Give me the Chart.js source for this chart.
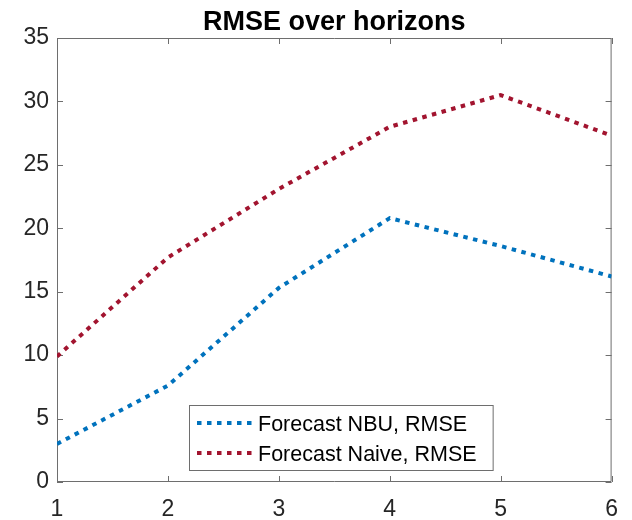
<!DOCTYPE html>
<html>
<head>
<meta charset="utf-8">
<title>RMSE over horizons</title>
<script src="https://cdn.jsdelivr.net/npm/chart.js@4/dist/chart.umd.min.js"></script>
<style>
  html, body { margin: 0; padding: 0; background: #fff; }
</style>
</head>
<body>
<canvas id="rmse-chart" width="632" height="520"></canvas>
<script>
// forecast horizons and RMSE values per model
const horizons = [1, 2, 3, 4, 5, 6];
const rmseNbu = [3.0, 7.6, 15.3, 20.8, 18.6, 16.2];
const rmseNaive = [9.9, 17.7, 23.1, 28.0, 30.5, 27.3];
const yTicks = [0, 5, 10, 15, 20, 25, 30, 35];
const seriesNames = ["Forecast NBU, RMSE", "Forecast Naive, RMSE"];

const FONT = "'Liberation Sans', Arial, Helvetica, sans-serif";
const TEXT_COLOR = "#262626";
const FRAME_COLOR = "#6e6e6e";
const DOTS = [4.5, 5.5];

const toPoints = (ys) => horizons.map((h, i) => ({ x: h, y: ys[i] }));

// box around the axes with inward tick marks on all four sides, plus the title
const matlabAxes = {
  id: "matlabAxes",
  beforeDatasetsDraw(chart) {
    const { ctx, chartArea: a, scales } = chart;
    const len = 6;
    ctx.save();
    ctx.strokeStyle = FRAME_COLOR;
    ctx.lineWidth = 1;
    ctx.beginPath();
    ctx.rect(a.left + 0.5, a.top + 0.5, a.right - a.left - 1, a.bottom - a.top - 1);
    scales.x.ticks.forEach((t) => {
      const px = Math.round(scales.x.getPixelForValue(t.value)) + 0.5;
      ctx.moveTo(px, a.bottom);
      ctx.lineTo(px, a.bottom - len);
      ctx.moveTo(px, a.top);
      ctx.lineTo(px, a.top + len);
    });
    scales.y.ticks.forEach((t) => {
      const py = Math.round(scales.y.getPixelForValue(t.value)) + 0.5;
      ctx.moveTo(a.left, py);
      ctx.lineTo(a.left + len, py);
      ctx.moveTo(a.right, py);
      ctx.lineTo(a.right - len, py);
    });
    ctx.stroke();

    ctx.fillStyle = "#000";
    ctx.font = "bold 27px " + FONT;
    ctx.textAlign = "center";
    ctx.textBaseline = "alphabetic";
    ctx.fillText("RMSE over horizons", (a.left + a.right) / 2, 30);
    ctx.restore();
  },
};

// legend box inside the axes, lower middle
const innerLegend = {
  id: "innerLegend",
  afterDraw(chart) {
    const { ctx, chartArea: a } = chart;
    const sets = chart.data.datasets;
    ctx.save();
    ctx.font = "21.5px " + FONT;
    const textW = Math.max(...sets.map((d) => ctx.measureText(d.label).width));
    const x = a.left + 132;
    const y = a.bottom - 77;
    const w = 69 + textW + 16;
    const h = 65;
    ctx.fillStyle = "#fff";
    ctx.fillRect(x, y, w, h);
    ctx.strokeStyle = FRAME_COLOR;
    ctx.lineWidth = 1;
    ctx.strokeRect(x + 0.5, y + 0.5, w, h);

    sets.forEach((d, i) => {
      const cy = y + 18 + i * 30;
      ctx.strokeStyle = d.borderColor;
      ctx.lineWidth = d.borderWidth;
      ctx.setLineDash(d.borderDash);
      ctx.beginPath();
      ctx.moveTo(x + 8, cy);
      ctx.lineTo(x + 68, cy);
      ctx.stroke();
      ctx.setLineDash([]);
      ctx.fillStyle = "#000";
      ctx.textAlign = "left";
      ctx.textBaseline = "middle";
      ctx.fillText(d.label, x + 69, cy + 2);
    });
    ctx.restore();
  },
};

const config = {
  type: "line",
  data: {
    datasets: [
      {
        label: seriesNames[0],
        data: toPoints(rmseNbu),
        borderColor: "#0072BD",
        borderWidth: 4,
        borderDash: DOTS,
        borderCapStyle: "butt",
        pointRadius: 0,
        tension: 0,
      },
      {
        label: seriesNames[1],
        data: toPoints(rmseNaive),
        borderColor: "#A2142F",
        borderWidth: 4,
        borderDash: DOTS,
        borderCapStyle: "butt",
        pointRadius: 0,
        tension: 0,
      },
    ],
  },
  options: {
    responsive: false,
    animation: false,
    layout: { padding: { top: 38, right: 10, left: 0, bottom: 0 } },
    plugins: {
      legend: { display: false },
      title: { display: false },
      tooltip: { enabled: false },
    },
    scales: {
      x: {
        type: "linear",
        min: horizons[0],
        max: horizons[horizons.length - 1],
        afterFit: (s) => { s.height = 38; },
        afterBuildTicks: (s) => { s.ticks = horizons.map((v) => ({ value: v })); },
        grid: { display: false, drawTicks: false },
        border: { display: false },
        ticks: { color: TEXT_COLOR, font: { family: FONT, size: 23 }, padding: 14 },
      },
      y: {
        min: yTicks[0],
        max: yTicks[yTicks.length - 1],
        afterFit: (s) => { s.width = 57; },
        afterBuildTicks: (s) => { s.ticks = yTicks.map((v) => ({ value: v })); },
        grid: { display: false, drawTicks: false },
        border: { display: false },
        ticks: { color: TEXT_COLOR, font: { family: FONT, size: 23 }, padding: 8 },
      },
    },
  },
  plugins: [matlabAxes, innerLegend],
};

new Chart(document.getElementById("rmse-chart").getContext("2d"), config);
</script>
</body>
</html>
